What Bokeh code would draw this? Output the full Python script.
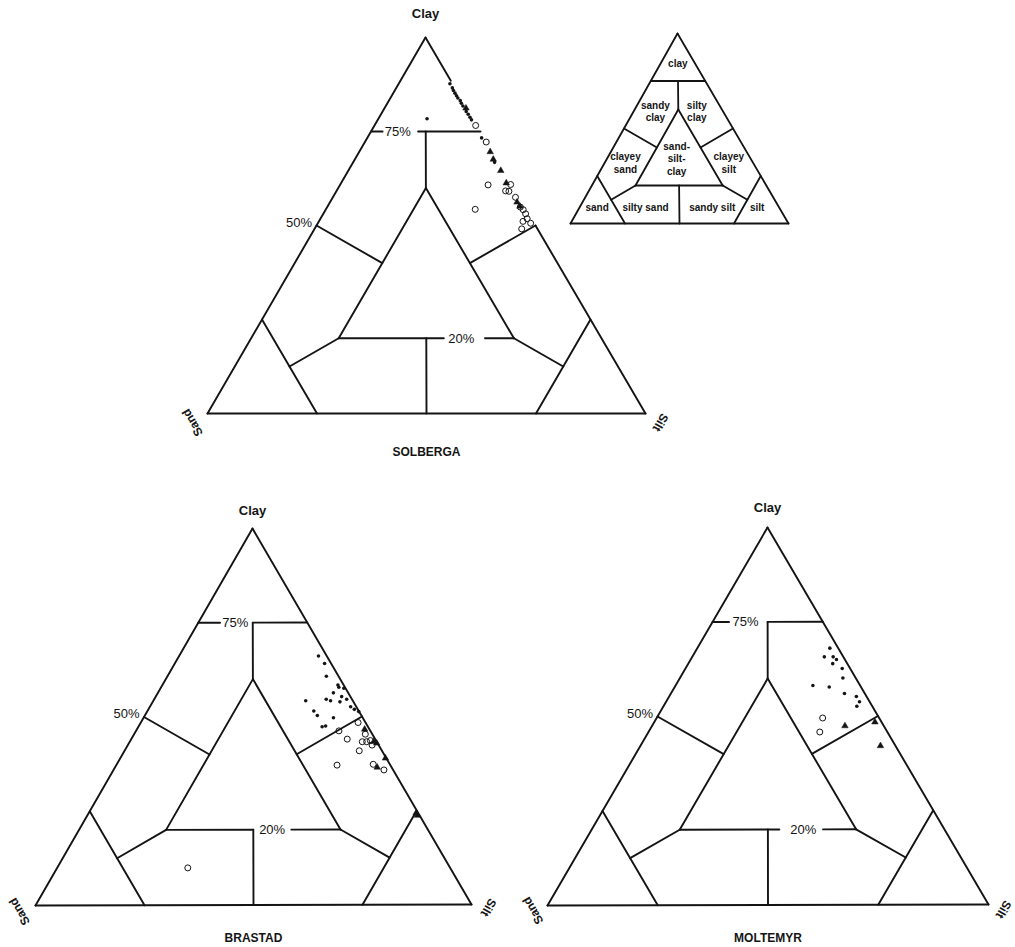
import math
import numpy as np
from bokeh.plotting import figure
from bokeh.models import Range1d
from bokeh.embed import file_html
from bokeh.resources import INLINE
from bokeh.core.properties import value

FONT = "Liberation Sans"
INK = "#141414"

# ---------------- data (percent clay / silt / sand) ----------------
# SOLBERGA
sol_dot_clay = [87.7, 86.6, 85.9, 85.2, 84.5, 83.9, 83.2, 82.5, 81.8, 80.3, 79.6, 78.8, 78.1, 78.4, 73.3, 66.8]
sol_dot_silt = [11.7, 12.8, 13.4, 14.1, 14.8, 15.4, 16.3, 16.9, 17.6, 19.1, 19.9, 20.7, 21.4, 11.1, 26.1, 32.3]
sol_dot_sand = [0.6, 0.6, 0.7, 0.7, 0.7, 0.7, 0.5, 0.6, 0.6, 0.6, 0.5, 0.5, 0.5, 10.5, 0.6, 0.9]

sol_tri_clay = [81.2, 69.6, 67.6, 64.6, 61.3, 56.2, 55.1]
sol_tri_silt = [18.6, 29.9, 31.6, 34.8, 37.7, 42.7, 43.9]
sol_tri_sand = [0.2, 0.5, 0.8, 0.6, 1.0, 1.1, 1.0]

sol_circ_clay = [76.6, 72.2, 60.8, 60.9, 59.2, 59.1, 57.5, 54.9, 54.3, 54.2, 53.1, 51.8, 51.1, 50.6, 49.1]
sol_circ_silt = [23.1, 27.7, 33.8, 38.9, 38.6, 39.4, 41.7, 44.1, 34.1, 45.1, 46.2, 47.2, 46.6, 48.6, 47.3]
sol_circ_sand = [0.3, 0.1, 5.4, 0.2, 2.2, 1.5, 0.8, 1.0, 11.6, 0.7, 0.7, 1.0, 2.3, 0.8, 3.6]

# BRASTAD
bra_dot_clay = [66.1, 64.1, 60.7, 58.4, 57.8, 57.5, 56.3, 55.3, 54.2, 54.6, 54.2, 53.9, 54.6, 52.6, 51.5, 51.9, 50.3, 49.7, 51.3, 47.3, 47.5]
bra_dot_silt = [32.0, 34.4, 36.5, 40.3, 40.8, 42.1, 40.3, 42.7, 35.0, 39.5, 40.7, 43.0, 44.2, 46.1, 38.2, 47.3, 39.6, 43.6, 48.6, 42.2, 42.9]
bra_dot_sand = [1.9, 1.5, 2.8, 1.3, 1.4, 0.4, 3.4, 2.0, 10.8, 5.9, 5.1, 3.1, 1.2, 1.3, 10.3, 0.8, 10.1, 6.7, 0.1, 10.5, 9.6]

bra_circ_clay = [48.4, 46.2, 45.3, 44.0, 43.3, 43.3, 43.6, 42.4, 40.9, 37.1, 37.3, 35.8, 9.9]
bra_circ_silt = [49.9, 46.6, 53.1, 49.6, 53.4, 54.4, 55.1, 56.1, 53.9, 50.7, 58.9, 62.1, 30.0]
bra_circ_sand = [1.7, 7.2, 1.6, 6.4, 3.3, 2.3, 1.3, 1.5, 5.2, 12.2, 3.8, 2.1, 60.1]

bra_tri_clay = [46.6, 43.3, 42.9, 38.9, 36.5, 23.7, 24.3]
bra_tri_silt = [52.3, 56.0, 56.9, 60.9, 60.2, 75.8, 75.2]
bra_tri_sand = [1.1, 0.7, 0.2, 0.2, 3.3, 0.5, 0.5]

# MOLTEMYR
mol_dot_clay = [68.0, 65.7, 65.7, 65.0, 63.9, 62.6, 60.1, 58.1, 57.7, 56.0, 55.2, 53.8, 52.6]
mol_dot_silt = [30.1, 30.0, 32.0, 33.1, 32.8, 35.6, 37.0, 31.2, 35.1, 39.4, 42.5, 43.9, 43.9]
mol_dot_sand = [1.9, 4.3, 2.3, 1.9, 3.3, 1.8, 2.9, 10.7, 7.2, 4.6, 2.3, 2.3, 3.5]

mol_circ_clay = [49.5, 45.8]
mol_circ_silt = [37.7, 38.9]
mol_circ_sand = [12.8, 15.3]

mol_tri_clay = [47.4, 48.4, 42.1]
mol_tri_silt = [43.8, 50.1, 54.5]
mol_tri_sand = [8.8, 1.5, 3.4]

# key labels (text, sand, silt, clay)
key_text = ["clay", "sandy\nclay", "silty\nclay", "clayey\nsand", "sand-\nsilt-\nclay",
            "clayey\nsilt", "sand", "silty sand", "sandy silt", "silt"]
key_sand = [8, 31, 12, 58.6, 34, 11.2, 83.4, 61.2, 30.6, 10]
key_silt = [8, 10, 29, 9.6, 32, 57, 8, 30.2, 60.8, 81.4]
key_clay = [84, 59, 59, 31.8, 34, 31.8, 8.6, 8.6, 8.6, 8.6]

# ---------------- layout ----------------
W, H = 1015, 945
PAGE_H = 947


def up(y):
    return PAGE_H - y


panels = [
    dict(name="SOLBERGA", S=(207, 413), T=(645, 413), C=(425, 37),
         gap75=(0.106, 0.43), c75=0.245, gap20=(0.60, 0.835), c20=0.70,
         right_gap=(50, 88.5), clay_dy=24, title_y=451,
         sand_off=(-15, 9), silt_off=(15, 9),
         dots=(sol_dot_sand, sol_dot_silt, sol_dot_clay),
         circs=(sol_circ_sand, sol_circ_silt, sol_circ_clay),
         tris=(sol_tri_sand, sol_tri_silt, sol_tri_clay)),
    dict(name="BRASTAD", S=(35, 905), T=(471, 904), C=(252, 528),
         gap75=(0.2, 0.5), c75=0.34, gap20=(0.5, 0.718), c20=0.608,
         right_gap=None, clay_dy=18, title_y=937,
         sand_off=(-16, 6), silt_off=(17, 3),
         dots=(bra_dot_sand, bra_dot_silt, bra_dot_clay),
         circs=(bra_circ_sand, bra_circ_silt, bra_circ_clay),
         tris=(bra_tri_sand, bra_tri_silt, bra_tri_clay)),
    dict(name="MOLTEMYR", S=(547, 905), T=(988, 904), C=(767, 527),
         gap75=(0.15, 0.5), c75=0.30, gap20=(0.565, 0.8125), c20=0.70,
         right_gap=None, clay_dy=20, title_y=937,
         sand_off=(-14.5, 5), silt_off=(15, 5),
         dots=(mol_dot_sand, mol_dot_silt, mol_dot_clay),
         circs=(mol_circ_sand, mol_circ_silt, mol_circ_clay),
         tris=(mol_tri_sand, mol_tri_silt, mol_tri_clay)),
]
KEY = dict(S=(570, 223), T=(788, 223), C=(677, 33))


def make_map(S, T, C):
    Sx, Sy = S[0], up(S[1])
    Tx, Ty = T[0], up(T[1])
    Cx, Cy = C[0], up(C[1])

    def f(sand, silt, clay):
        sand = np.asarray(sand, float)
        silt = np.asarray(silt, float)
        clay = np.asarray(clay, float)
        tot = sand + silt + clay
        x = (sand * Sx + silt * Tx + clay * Cx) / tot
        y = (sand * Sy + silt * Ty + clay * Cy) / tot
        return x, y
    return f


def shepard_segments(gap75=None, gap20=None, right_gap=None):
    segs = [((100, 0, 0), (0, 100, 0)), ((100, 0, 0), (0, 0, 100))]
    if right_gap:
        lo, hi = right_gap
        segs += [((0, 100, 0), (0, 100 - lo, lo)), ((0, 100 - hi, hi), (0, 0, 100))]
    else:
        segs.append(((0, 100, 0), (0, 0, 100)))

    def p75(f):
        return (25 * (1 - f), 25 * f, 75)

    def p20(f):
        return (60 - 40 * f, 20 + 40 * f, 20)

    if gap75:
        segs += [(p75(0), p75(gap75[0])), (p75(gap75[1]), p75(1))]
    else:
        segs.append((p75(0), p75(1)))
    if gap20:
        segs += [(p20(0), p20(gap20[0])), (p20(gap20[1]), p20(1))]
    else:
        segs.append((p20(0), p20(1)))
    segs += [((12.5, 12.5, 75), (20, 20, 60)),
             ((20, 20, 60), (60, 20, 20)), ((20, 20, 60), (20, 60, 20)),
             ((50, 0, 50), (40, 20, 40)), ((0, 50, 50), (20, 40, 40)),
             ((75, 0, 25), (75, 25, 0)), ((75, 12.5, 12.5), (60, 20, 20)),
             ((0, 75, 25), (25, 75, 0)), ((12.5, 75, 12.5), (20, 60, 20)),
             ((40, 40, 20), (50, 50, 0))]
    return segs


def draw_segments(p, fmap, segs, lw):
    xs, ys = [], []
    for a, b in segs:
        x, y = fmap([a[0], b[0]], [a[1], b[1]], [a[2], b[2]])
        xs.append(list(x))
        ys.append(list(y))
    p.multi_line(xs, ys, line_color=INK, line_width=lw, line_cap="round", line_join="round")


p = figure(width=W, height=H, x_range=Range1d(0, W), y_range=Range1d(PAGE_H - H, PAGE_H),
           output_backend="svg", toolbar_location=None, min_border=0,
           x_axis_location=None, y_axis_location=None)
p.grid.visible = False
p.outline_line_color = None
p.background_fill_color = "white"
p.border_fill_color = "white"

txt = dict(text_font=value(FONT), text_color=INK)

for pan in panels:
    fm = make_map(pan["S"], pan["T"], pan["C"])
    draw_segments(p, fm, shepard_segments(pan["gap75"], pan["gap20"], pan["right_gap"]), 1.9)

    # data
    x, y = fm(*pan["dots"])
    p.scatter(x, y, marker="circle", size=3.6, fill_color=INK, line_color=None)
    x, y = fm(*pan["circs"])
    p.scatter(x, y, marker="circle", size=6, fill_color=None, line_color=INK, line_width=1.0)
    x, y = fm(*pan["tris"])
    p.scatter(x, y, marker="triangle", size=6.5, fill_color=INK, line_color=INK, line_width=0.5)

    # percent labels
    f75 = pan["c75"]
    x, y = fm([25 * (1 - f75)], [25 * f75], [75])
    p.text(x, y, text=["75%"], text_font_size="13px", text_align="center", text_baseline="middle", **txt)
    f20 = pan["c20"]
    x, y = fm([60 - 40 * f20], [20 + 40 * f20], [20])
    p.text(x, y, text=["20%"], text_font_size="13px", text_align="center", text_baseline="middle", **txt)
    x, y = fm([50], [0], [50])
    p.text(x - 4.5, y + 3.5, text=["50%"], text_font_size="13px", text_align="right", text_baseline="middle", **txt)

    # corner labels
    x, y = fm([0], [0], [100])
    p.text(x, y + pan["clay_dy"], text=["Clay"], text_font_size="13px", text_font_style="bold",
           text_align="center", text_baseline="middle", **txt)
    x, y = fm([100], [0], [0])
    p.text(x + pan["sand_off"][0], y - pan["sand_off"][1], text=["Sand"], angle=2 * math.pi / 3,
           text_font_size="12px", text_font_style="bold", text_align="center", text_baseline="middle", **txt)
    x, y = fm([0], [100], [0])
    p.text(x + pan["silt_off"][0], y - pan["silt_off"][1], text=["Silt"], angle=-2 * math.pi / 3,
           text_font_size="12px", text_font_style="bold", text_align="center", text_baseline="middle", **txt)

    # title
    x, y = fm([50], [50], [0])
    p.text(x, [up(pan["title_y"])], text=[pan["name"]], text_font_size="12px", text_font_style="bold",
           text_align="center", text_baseline="alphabetic", **txt)

# key diagram
fk = make_map(KEY["S"], KEY["T"], KEY["C"])
draw_segments(p, fk, shepard_segments(), 1.8)
x, y = fk(key_sand, key_silt, key_clay)
p.text(x, y, text=key_text, text_font_size="10px", text_font_style="bold", text_align="center",
       text_baseline="middle", text_line_height=1.15, **txt)

open("out.html", "w").write(file_html(p, INLINE))
